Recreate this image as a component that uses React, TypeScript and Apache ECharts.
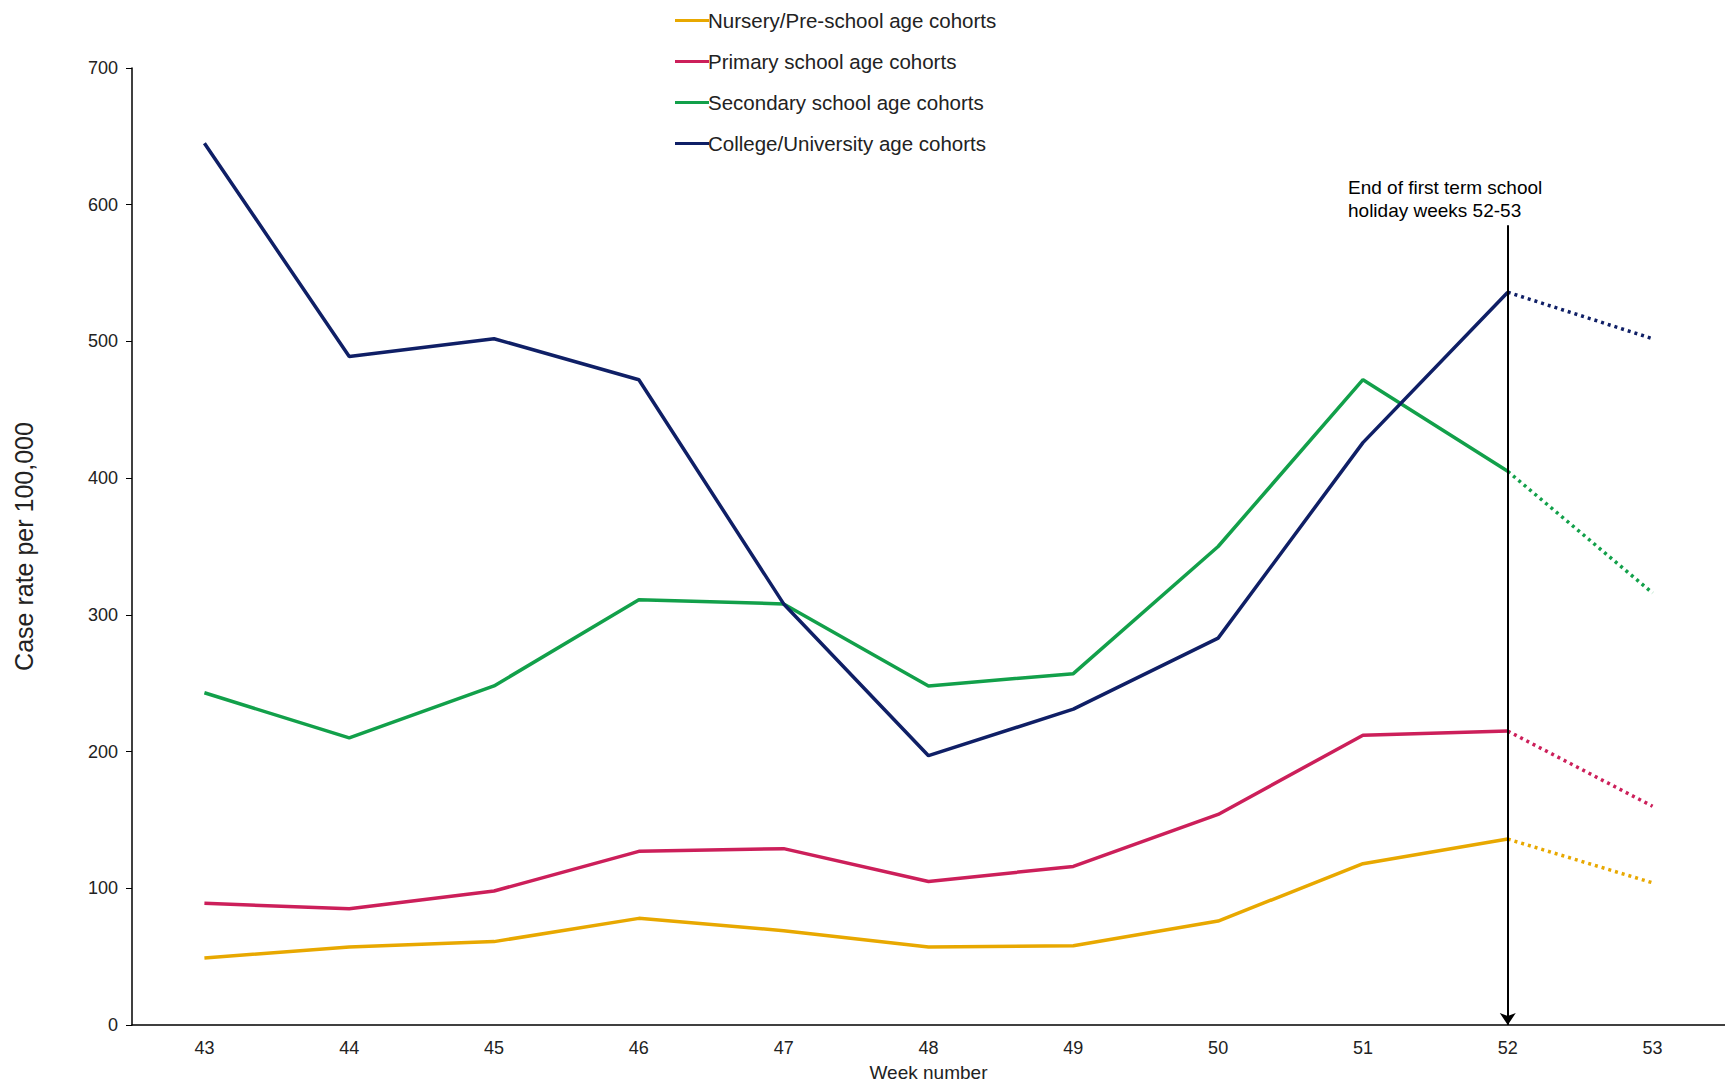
import { useEffect, useRef } from 'react';
import * as echarts from 'echarts';

const weeks = ['43', '44', '45', '46', '47', '48', '49', '50', '51', '52', '53'];
const nursery = [49, 57, 61, 78, 69, 57, 58, 76, 118, 136];
const primary = [89, 85, 98, 127, 129, 105, 116, 154, 212, 215];
const secondary = [243, 210, 248, 311, 308, 248, 257, 350, 472, 405];
const college = [645, 489, 502, 472, 308, 197, 231, 283, 426, 536];
const week53 = { nursery: 104, primary: 160, secondary: 316, college: 502 };

const names = [
  'Nursery/Pre-school age cohorts',
  'Primary school age cohorts',
  'Secondary school age cohorts',
  'College/University age cohorts',
];
const colors = ['#e8a800', '#cc1f5a', '#12a04a', '#0f1f66'];

function dotted(last: number, next: number) {
  const d: (number | null)[] = weeks.map(() => null);
  d[9] = last;
  d[10] = next;
  return d;
}

export default function App() {
  const ref = useRef<HTMLDivElement>(null);

  useEffect(() => {
    if (!ref.current) return;
    const chart = echarts.init(ref.current, null, { renderer: 'svg' });
    const solid = [nursery, primary, secondary, college];
    const tails = [week53.nursery, week53.primary, week53.secondary, week53.college];
    const series: any[] = [];
    solid.forEach((d, i) => {
      series.push({
        name: names[i], type: 'line', data: d, symbol: 'none',
        lineStyle: { color: colors[i], width: 3.5 }, itemStyle: { color: colors[i] },
      });
    });
    solid.forEach((d, i) => {
      series.push({
        name: names[i] + ' (holiday)', type: 'line', data: dotted(d[9], tails[i]), symbol: 'none',
        lineStyle: { color: colors[i], width: 3.5, type: [3, 4] },
      });
    });
    series[0].markLine = {
      silent: true, symbol: ['none', 'arrow'], symbolSize: 12,
      lineStyle: { color: '#000', width: 2, type: 'solid' },
      label: { show: false },
      data: [[{ coord: ['52', 585] }, { coord: ['52', 0] }]],
    };
    chart.setOption({
      animation: false,
      textStyle: { fontFamily: 'Arial, Liberation Sans, sans-serif' },
      grid: { left: 124, right: 0, top: 60, bottom: 55, outerBoundsMode: 'none', containLabel: false },
      legend: {
        data: names, orient: 'vertical', left: 662, top: -3, itemGap: 20,
        icon: 'rect', itemWidth: 34, itemHeight: 3,
        textStyle: { fontSize: 20.5, color: '#222', padding: [0, 0, 0, -6] },
      },
      xAxis: {
        type: 'category', data: weeks, name: 'Week number', nameLocation: 'middle', nameGap: 38,
        nameTextStyle: { fontSize: 19, color: '#222' },
        axisLine: { lineStyle: { color: '#000', width: 1.5 } },
        axisTick: { lineStyle: { color: '#000' }, length: 6 },
        axisLabel: { fontSize: 18, color: '#222', margin: 14 },
      },
      yAxis: {
        type: 'value', min: 0, max: 700, interval: 100,
        name: 'Case rate per 100,000', nameLocation: 'middle', nameGap: 96,
        nameTextStyle: { fontSize: 25, color: '#222' },
        splitLine: { show: false },
        axisLine: { show: true, lineStyle: { color: '#000', width: 1.5 } },
        axisTick: { show: true, lineStyle: { color: '#000' }, length: 6 },
        axisLabel: { fontSize: 18, color: '#222', margin: 14 },
      },
      graphic: [{
        type: 'text', left: 1340, top: 168,
        style: { text: 'End of first term school\nholiday weeks 52-53', fontSize: 19, lineHeight: 23, fill: '#000', fontFamily: 'Arial, Liberation Sans, sans-serif' },
      }],
      series,
    });
    return () => chart.dispose();
  }, []);

  return <div ref={ref} style={{ width: 1717, height: 1072 }} />;
}
